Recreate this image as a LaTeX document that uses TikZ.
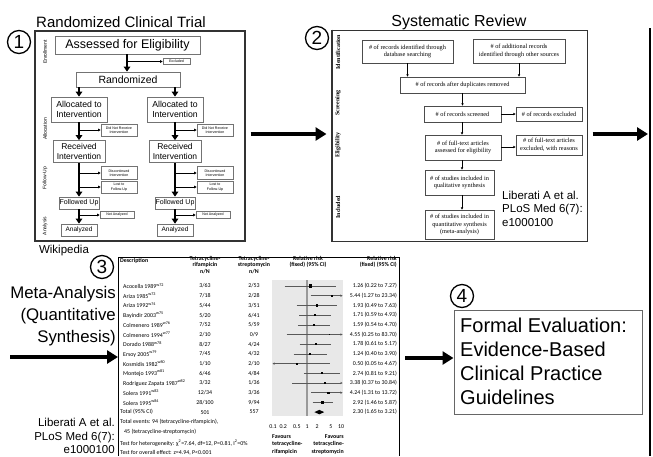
\documentclass[tikz,border=0pt]{standalone}
\usepackage{fontspec}
\setmainfont{Liberation Sans}
\newfontfamily\srfont{Liberation Serif}
\newfontfamily\fpfont{Carlito}
\usetikzlibrary{arrows.meta}
\newcommand\fsz[2]{\fontsize{#1}{#2}\selectfont}
\newcommand\fprow[5]{%
  \node[fp, anchor=west] (fd#1) at (123,{286+9.7*#1}) {#2};
  \node[fp] (fa#1) at (205,{286+9.7*#1}) {#3};
  \node[fp] (fb#1) at (254,{286+9.7*#1}) {#4};
  \node[fp, anchor=east] (fr#1) at (397,{286+9.7*#1}) {#5};}
\newcommand\fpci[6]{%
  \draw[cil,#6] (#2,{286+9.7*#1}) -- (#3,{286+9.7*#1});
  \fill (#4,{286+9.7*#1}) +({-#5/2},{-#5/2}) rectangle +({#5/2},{#5/2});}
\begin{document}
\begin{tikzpicture}[x=1pt,y=-1pt,
  rctbox/.style={draw=black!55, line width=0.7pt, fill=white, inner sep=0pt, align=center},
  rctarr/.style={line width=1.8pt, -{Triangle[length=5pt,width=6.5pt]}},
  rctthin/.style={line width=0.6pt, -{Triangle[length=2.5pt,width=2.6pt]}},
  tiny/.style={font=\fsz{3.6}{4.4}},
  srbox/.style={draw=black!70, line width=0.7pt, fill=white, inner sep=0pt, align=center, font=\srfont\fsz{6.3}{7.5}},
  srarr/.style={line width=0.6pt, -{Triangle[length=2.2pt,width=2.2pt]}},
  bigarr/.style={line width=4pt, -{Triangle[length=11pt,width=13pt]}},
  numc/.style={circle, draw, line width=1.3pt, minimum size=23pt, inner sep=0pt, font=\fsz{19}{19}},
  lane/.style={rotate=90, font=\fsz{5}{5}, inner sep=0pt},
  srlane/.style={rotate=90, font=\srfont\bfseries\fsz{6}{6}, inner sep=0pt},
  fp/.style={font=\fpfont\fsz{5.9}{6.5}, inner sep=0pt},
  fpb/.style={font=\fpfont\bfseries\fsz{5.9}{6.5}, inner sep=0pt, align=center},
  cil/.style={black!65, line width=0.6pt},
  cir/.style={-{Stealth[length=2.2pt,width=2.4pt]}},
  cil2/.style={{Stealth[length=2.2pt,width=2.4pt]}-},
  title/.style={font=\fsz{15}{15}, inner sep=0pt},
  cite/.style={font=\fsz{11.5}{13.5}, inner sep=0pt},
  ]
\useasboundingbox (0,0) rectangle (653,456);

% ---------------- Panel 1: RCT ----------------
\node[title] (t1) at (121,22) {Randomized Clinical Trial};
\node[numc] (n1) at (19,42) {1};
\node[draw=black!80, line width=1.4pt, minimum width=210, minimum height=210, inner sep=0pt] (rct) at (140,136) {};
\node[lane] (l1a) at (45,52) {Enrollment};
\node[lane] (l1b) at (45,129) {Allocation};
\node[lane] (l1c) at (45,178) {Follow-Up};
\node[lane] (l1d) at (45,226) {Analysis};

\node[rctbox, minimum width=145, minimum height=18, font=\fsz{12.5}{13}] (assess) at (127.5,45) {Assessed for Eligibility};
\node[rctbox, minimum width=27, minimum height=6, tiny] (excl) at (176.5,61.5) {Excluded};
\node[rctbox, minimum width=104, minimum height=15, font=\fsz{10.5}{11}] (rand) at (128,79.5) {Randomized};

\foreach \s/\cx/\sx in {L/79/119, R/175/215}{
  \node[rctbox, minimum width=56, minimum height=25, font=\fsz{8.7}{10}] (alloc\s) at (\cx,109.5) {Allocated to\\Intervention};
  \node[rctbox, minimum width=36, minimum height=12, tiny] (dnr\s) at (\sx,130) {Did Not Receive\\Intervention};
  \node[rctbox, minimum width=52, minimum height=22, font=\fsz{8.5}{10}] (rec\s) at (\cx,151.5) {Received\\Intervention};
  \node[rctbox, minimum width=36, minimum height=13, tiny] (disc\s) at (\sx,173) {Discontinued\\Intervention};
  \node[rctbox, minimum width=36, minimum height=12, tiny] (lost\s) at (\sx,187) {Lost to\\Follow-Up};
  \node[rctbox, minimum width=40, minimum height=12, font=\fsz{7}{8}] (fu\s) at (\cx,203) {Followed Up};
  \node[rctbox, minimum width=34, minimum height=7, tiny] (na\s) at (\sx-2,215) {Not Analyzed};
  \node[rctbox, minimum width=36, minimum height=12, font=\fsz{6.5}{7}] (an\s) at (\cx,230) {Analyzed};
  \draw[rctarr] (rand.south -| alloc\s) -- (alloc\s);
  \draw[rctarr] (alloc\s) -- (rec\s);
  \draw[rctarr] (rec\s) -- (fu\s);
  \draw[rctarr] (fu\s) -- (an\s);
  \draw[rctthin] (dnr\s.west -| alloc\s) -- (dnr\s.west);
  \draw[rctthin] (disc\s.west -| rec\s) -- (disc\s.west);
  \draw[rctthin] (lost\s.west -| rec\s) -- (lost\s.west);
  \draw[rctthin] (na\s.west -| fu\s) -- (na\s.west);
}
\draw[rctarr] (assess.south -| 127,0) -- (rand.north -| 127,0);
\draw[rctthin] (excl.west -| 127,0) -- (excl.west);
\node[font=\fsz{11.5}{12}, inner sep=0pt] (wiki) at (64,250.5) {Wikipedia};

% ---------------- Panel 2: Systematic review ----------------
\node[title, font=\fsz{16}{16}] (t2) at (459,22) {Systematic Review};
\node[numc] (n2) at (317,38) {2};
\node[draw=black!80, line width=1pt, minimum width=255, minimum height=211, inner sep=0pt] (sr) at (459.5,135.5) {};
\draw[line width=2pt, black!80] (sr.north west) -- (sr.south west);
\node[srlane] (l2a) at (338,52) {Identification};
\node[srlane] (l2b) at (338,103) {Screening};
\node[srlane] (l2c) at (338,145) {Eligibility};
\node[srlane] (l2d) at (338,207) {Included};

\node[srbox, minimum width=91, minimum height=23] (db) at (407.5,51.5) {\# of records identified through\\database searching};
\node[srbox, minimum width=92, minimum height=24] (oth) at (519,51) {\# of additional records\\identified through other sources};
\node[srbox, minimum width=125, minimum height=16] (dup) at (462.5,85) {\# of records after duplicates removed};
\node[srbox, minimum width=77, minimum height=16] (scr) at (462.5,114) {\# of records screened};
\node[srbox, minimum width=66, minimum height=14] (exc) at (549,114) {\# of records excluded};
\node[srbox, minimum width=76, minimum height=25] (ft) at (463,147.5) {\# of full-text articles\\assessed for eligibility};
\node[srbox, minimum width=66, minimum height=20] (fte) at (549,145) {\# of full-text articles\\excluded, with reasons};
\node[srbox, minimum width=69, minimum height=25] (qual) at (459.5,182.5) {\# of studies included in\\qualitative synthesis};
\node[srbox, minimum width=69, minimum height=29] (quant) at (459.5,224.5) {\# of studies included in\\quantitative synthesis\\(meta-analysis)};
\draw[srarr] (db) -- (db |- dup.north);
\draw[srarr] (oth) -- (oth |- dup.north);
\draw[srarr] (dup.south -| scr) -- (scr);
\draw[srarr] (scr) -- (exc);
\draw[srarr] (scr.south -| 462,0) -- (ft.north -| 462,0);
\draw[srarr] (ft.east |- 0,147) -- (fte.west |- 0,147);
\draw[srarr] (ft.south -| 462,0) -- (qual.north -| 462,0);
\draw[srarr] (qual.south -| 462,0) -- (quant.north -| 462,0);
\node[cite, anchor=west, align=left] (lib2) at (502,208.5) {Liberati A et al.\\PLoS Med 6(7):\\e1000100};

% arrows between panels
\coordinate (y134) at (0,134);
\coordinate (rtop) at (650,28);
\coordinate (rbot) at (650,456);
\draw[line width=1.3pt] (rtop) -- (rbot);
\draw[bigarr, shorten <=5pt, shorten >=5pt] (rct.east |- y134) -- (sr.west |- y134);
\draw[bigarr, shorten <=5pt, shorten >=2pt] (sr.east |- y134) -- (rtop |- y134);

% ---------------- Panel 3: Meta-analysis ----------------
\node[numc] (n3) at (102,267) {3};
\node[anchor=east, align=right, font=\fsz{16.8}{22}, inner sep=0pt] (meta) at (116,316) {Meta-Analysis\\(Quantitative\\Synthesis)};
\node[cite, anchor=east, align=right] (lib3) at (115,436) {Liberati A et al.\\PLoS Med 6(7):\\e1000100};
\coordinate (fpTL) at (118,257);
\coordinate (fpTR) at (399,257);
\coordinate (fpBL) at (118,456);
\coordinate (fpBR) at (399,456);
\coordinate (a3s) at (10,357);
\draw[line width=0.9pt] (fpBL) -- (fpTL) -- (fpTR) -- (fpBR);
\draw[bigarr] (a3s) -- (fpTL |- a3s);

\fill[black!9] (272,280) rectangle (343,416);
\draw[black!40, line width=1.2pt] (307,280) -- (307,416);

\node[fpb, anchor=west] (fh0) at (120,261) {Description};
\node[fpb] (fh1) at (205,265) {Tetracycline-\\rifampicin\\n/N};
\node[fpb] (fh2) at (254,265) {Tetracycline-\\streptomycin\\n/N};
\node[fpb] (fh3) at (308,262) {Relative risk\\(fixed) (95\% CI)};
\node[fpb, anchor=east, align=right] (fh4) at (397,262) {Relative risk\\(fixed) (95\% CI)};

\fprow{0}{Acocella 1989\textsuperscript{w72}}{3/63}{2/53}{1.26 (0.22 to 7.27)}
\fprow{1}{Ariza 1985\textsuperscript{w73}}{7/18}{2/28}{5.44 (1.27 to 23.34)}
\fprow{2}{Ariza 1992\textsuperscript{w74}}{5/44}{3/51}{1.93 (0.49 to 7.63)}
\fprow{3}{Bayindir 2003\textsuperscript{w75}}{5/20}{6/41}{1.71 (0.59 to 4.93)}
\fprow{4}{Colmenero 1989\textsuperscript{w76}}{7/52}{5/59}{1.59 (0.54 to 4.70)}
\fprow{5}{Colmenero 1994\textsuperscript{w77}}{2/10}{0/9}{4.55 (0.25 to 83.70)}
\fprow{6}{Dorado 1988\textsuperscript{w78}}{8/27}{4/24}{1.78 (0.61 to 5.17)}
\fprow{7}{Ersoy 2005\textsuperscript{w79}}{7/45}{4/32}{1.24 (0.40 to 3.90)}
\fprow{8}{Kosmidis 1982\textsuperscript{w80}}{1/10}{2/10}{0.50 (0.05 to 4.67)}
\fprow{9}{Montejo 1993\textsuperscript{w81}}{6/46}{4/84}{2.74 (0.81 to 9.21)}
\fprow{10}{Rodriguez Zapata 1987\textsuperscript{w82}}{3/32}{1/36}{3.38 (0.37 to 30.84)}
\fprow{11}{Solera 1991\textsuperscript{w83}}{12/34}{3/36}{4.24 (1.31 to 13.72)}
\fprow{12}{Solera 1995\textsuperscript{w84}}{28/100}{9/94}{2.92 (1.46 to 5.87)}
\fprow{13}{\hspace{-3pt}Total (95\% CI)}{501}{557}{2.30 (1.65 to 3.21)}

\fpci{0}{284.6}{336.3}{310.4}{3.5}{}
\fpci{1}{310.5}{342.5}{332.0}{2}{cir}
\fpci{2}{296.5}{337.0}{316.7}{2.4}{}
\fpci{3}{299.2}{330.6}{314.9}{2}{}
\fpci{4}{297.9}{329.9}{313.8}{2.4}{}
\fpci{5}{286.5}{342.5}{329.4}{1.6}{cir}
\fpci{6}{299.7}{331.3}{315.5}{2}{}
\fpci{7}{293.5}{327.1}{310.2}{2.4}{}
\fpci{8}{272.5}{329.8}{296.8}{2}{cil2}
\fpci{9}{303.9}{339.8}{321.9}{2}{}
\fpci{10}{292.3}{342.5}{325.0}{1.6}{cir}
\fpci{11}{311.0}{342.5}{328.3}{2.4}{cir}
\fpci{12}{312.6}{333.1}{322.8}{3.2}{}
\fill (314.4,412.1) -- (319.3,409.9) -- (324.2,412.1) -- (319.3,414.3) -- cycle;

\foreach \v/\lab in {-1/0.1, -0.699/0.2, -0.301/0.5, 0/1, 0.301/2, 0.699/5, 1/10}
  \node[fp] at ({307+34*\v},427) {\lab};
\node[fpb, align=left, anchor=north west, font=\fpfont\bfseries\fsz{5.9}{7.5}] (fav1) at (272,434) {Favours\\tetracycline-\\rifampicin};
\node[fpb, align=right, anchor=north east, font=\fpfont\bfseries\fsz{5.9}{7.5}] (fav2) at (344,434) {Favours\\tetracycline-\\streptomycin};

\node[fp, anchor=west] (te1) at (120,422) {Total events: 94 (tetracycline-rifampicin),};
\node[fp, anchor=west] (te2) at (124,432) {45 (tetracycline-streptomycin)};
\node[fp, anchor=west] (te3) at (120,443) {Test for heterogeneity: χ\textsuperscript{2}=7.64, df=12, P=0.81, I\textsuperscript{2}=0\%};
\node[fp, anchor=west] (te4) at (120,453) {Test for overall effect: z=4.94, P<0.001};

% ---------------- Panel 4 ----------------
\node[numc] (n4) at (462,296) {4};
\node[draw=black!60, line width=1pt, minimum width=188, minimum height=104, inner sep=0pt] (fbox) at (548,362) {};
\node[anchor=west, align=left, font=\fsz{20}{24}, inner sep=0pt] (ftext) at (460,361.5) {Formal Evaluation:\\Evidence-Based\\Clinical Practice\\Guidelines};
\coordinate (a4s) at (405,358);
\draw[bigarr] (a4s) -- (fbox.west |- a4s);
\end{tikzpicture}
\end{document}
